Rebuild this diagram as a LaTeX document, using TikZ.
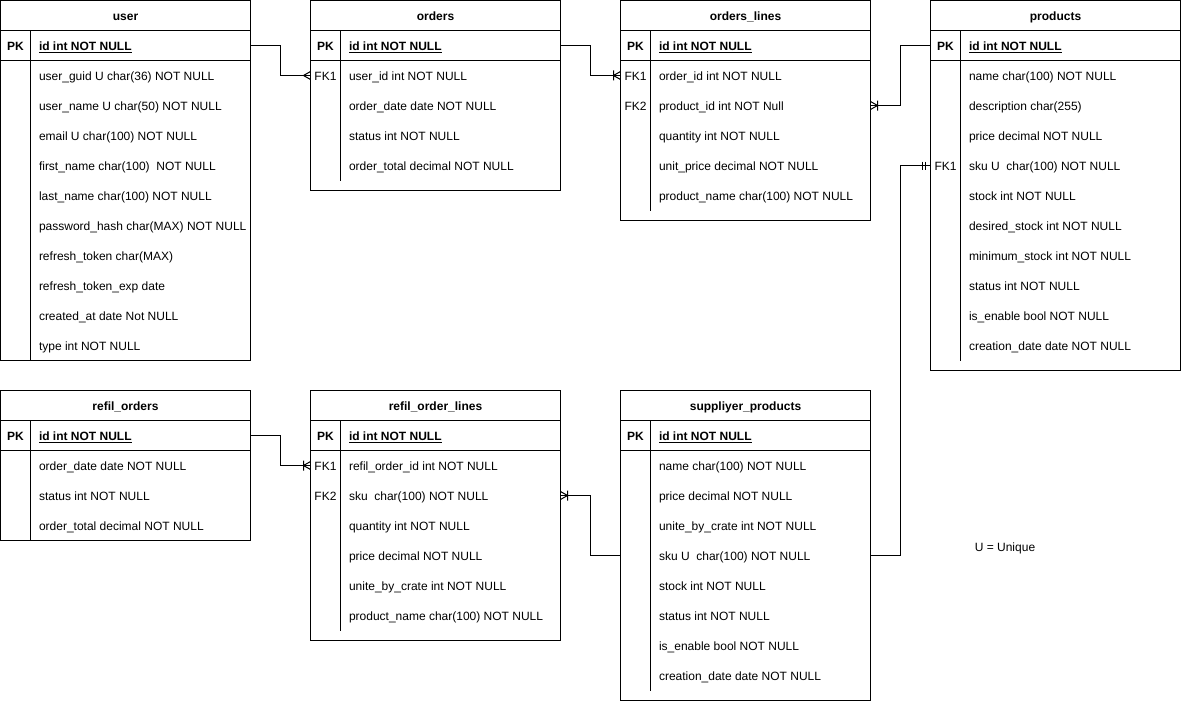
\documentclass[tikz,border=0pt]{standalone}
\usepackage{fontspec}
\setmainfont{Liberation Sans}
\usetikzlibrary{calc,positioning}

\newcommand{\erdfont}{\fontsize{12}{14}\selectfont}

% one entity table: name, x, y, title, number of rows, extra space, rows (key/field)
\newcommand{\erdtable}[7]{%
  \node[erd head] (#1) at (#2,#3) {};
  \node[erd key, font=\erdfont\bfseries] at (#1.center) {#4};
  \node[erd row, draw] (#1-0) at (#1.south west) {};
  \node[erd key, font=\erdfont\bfseries] at ($(#1-0.west)+(15,0)$) {PK};
  \node[erd field, font=\erdfont\bfseries] at ($(#1-0.west)+(38,0)$) {\underline{id int NOT NULL}};
  \foreach \k/\f [count=\i] in {#7} {
    \node[erd row] (#1-\i) at ($(#1-0.south west)+(0,30*\i-30)$) {};
    \node[erd key] at ($(#1-\i.west)+(15,0)$) {\k};
    \node[erd field] at ($(#1-\i.west)+(38,0)$) {\f};
  }
  \draw (#1-0.south west) rectangle ++(250,30*#5+#6);
  \draw ($(#1-0.north west)+(30,0)$) -- ++(0,30+30*#5);
}

\tikzset{
  erd head/.style={draw, minimum width=250pt, minimum height=30pt, anchor=north west,
    inner sep=0pt, outer sep=0pt},
  erd row/.style={minimum width=250pt, minimum height=30pt, anchor=north west,
    inner sep=0pt, outer sep=0pt},
  erd text/.style={inner sep=0pt, text height=8.6pt, text depth=2.6pt, yshift=-2.2pt, font=\erdfont},
  erd key/.style={erd text},
  erd field/.style={erd text, anchor=west},
  % relation ends, edge of the table at the origin, line coming from the left
  erd many/.pic={\draw (-7,0) -- (0,-4) (-7,0) -- (0,4);},
  erd one many/.pic={\draw (-7,0) -- (0,-4) (-7,0) -- (0,4) (-7,-5) -- (-7,5);},
  erd mand one/.pic={\draw (-8,-4) -- (-8,4) (-5,-4) -- (-5,4);},
}

\begin{document}
\begin{tikzpicture}[x=1pt, y=-1pt, line width=1pt]
\useasboundingbox (0,0) rectangle (1181,701);

%========================
% top row of tables
%========================
\erdtable{user}{0.5}{0.5}{user}{10}{0}{
  /user\_guid U char(36) NOT NULL,
  /user\_name U char(50) NOT NULL,
  /email U char(100) NOT NULL,
  /first\_name char(100)\ \ NOT NULL,
  /last\_name char(100) NOT NULL,
  /password\_hash char(MAX) NOT NULL,
  /refresh\_token char(MAX),
  /refresh\_token\_exp date,
  /created\_at date Not NULL,
  /type int NOT NULL}

\erdtable{orders}{310.5}{0.5}{orders}{4}{10}{
  FK1/user\_id int NOT NULL,
  /order\_date date NOT NULL,
  /status int NOT NULL,
  /order\_total decimal NOT NULL}

\erdtable{orderlines}{620.5}{0.5}{orders\_lines}{5}{10}{
  FK1/order\_id int NOT NULL,
  FK2/product\_id int NOT Null,
  /quantity int NOT NULL,
  /unit\_price decimal NOT NULL,
  /product\_name char(100) NOT NULL}

\erdtable{products}{930.5}{0.5}{products}{10}{10}{
  /name char(100) NOT NULL,
  /description char(255),
  /price decimal NOT NULL,
  FK1/sku U\ \ char(100) NOT NULL,
  /stock int NOT NULL,
  /desired\_stock int NOT NULL,
  /minimum\_stock int NOT NULL,
  /status int NOT NULL,
  /is\_enable bool NOT NULL,
  /creation\_date date NOT NULL}

%========================
% bottom row of tables
%========================
\erdtable{refilorders}{0.5}{390.5}{refil\_orders}{3}{0}{
  /order\_date date NOT NULL,
  /status int NOT NULL,
  /order\_total decimal NOT NULL}

\erdtable{refillines}{310.5}{390.5}{refil\_order\_lines}{6}{10}{
  FK1/refil\_order\_id int NOT NULL,
  FK2/sku\ \ char(100) NOT NULL,
  /quantity int NOT NULL,
  /price decimal NOT NULL,
  /unite\_by\_crate int NOT NULL,
  /product\_name char(100) NOT NULL}

\erdtable{supprod}{620.5}{390.5}{suppliyer\_products}{8}{10}{
  /name char(100) NOT NULL,
  /price decimal NOT NULL,
  /unite\_by\_crate int NOT NULL,
  /sku U\ \ char(100) NOT NULL,
  /stock int NOT NULL,
  /status int NOT NULL,
  /is\_enable bool NOT NULL,
  /creation\_date date NOT NULL}

\node[erd key] (legend) at (1005,546) {U = Unique};

%========================
% relations
%========================
\draw (user-0.east) -- ++(30,0) |- (orders-1.west);
\pic at (orders-1.west) {erd many};

\draw (orders-0.east) -- ++(30,0) |- (orderlines-1.west);
\pic at (orderlines-1.west) {erd one many};

\draw (products-0.west) -- ++(-30,0) |- (orderlines-2.east);
\pic[rotate=180] at (orderlines-2.east) {erd one many};

\draw (supprod-4.east) -- ++(30,0) |- (products-4.west);
\pic at (products-4.west) {erd mand one};

\draw (refilorders-0.east) -- ++(30,0) |- (refillines-1.west);
\pic at (refillines-1.west) {erd one many};

\draw (supprod-4.west) -- ++(-30,0) |- (refillines-2.east);
\pic[rotate=180] at (refillines-2.east) {erd one many};

\end{tikzpicture}
\end{document}
